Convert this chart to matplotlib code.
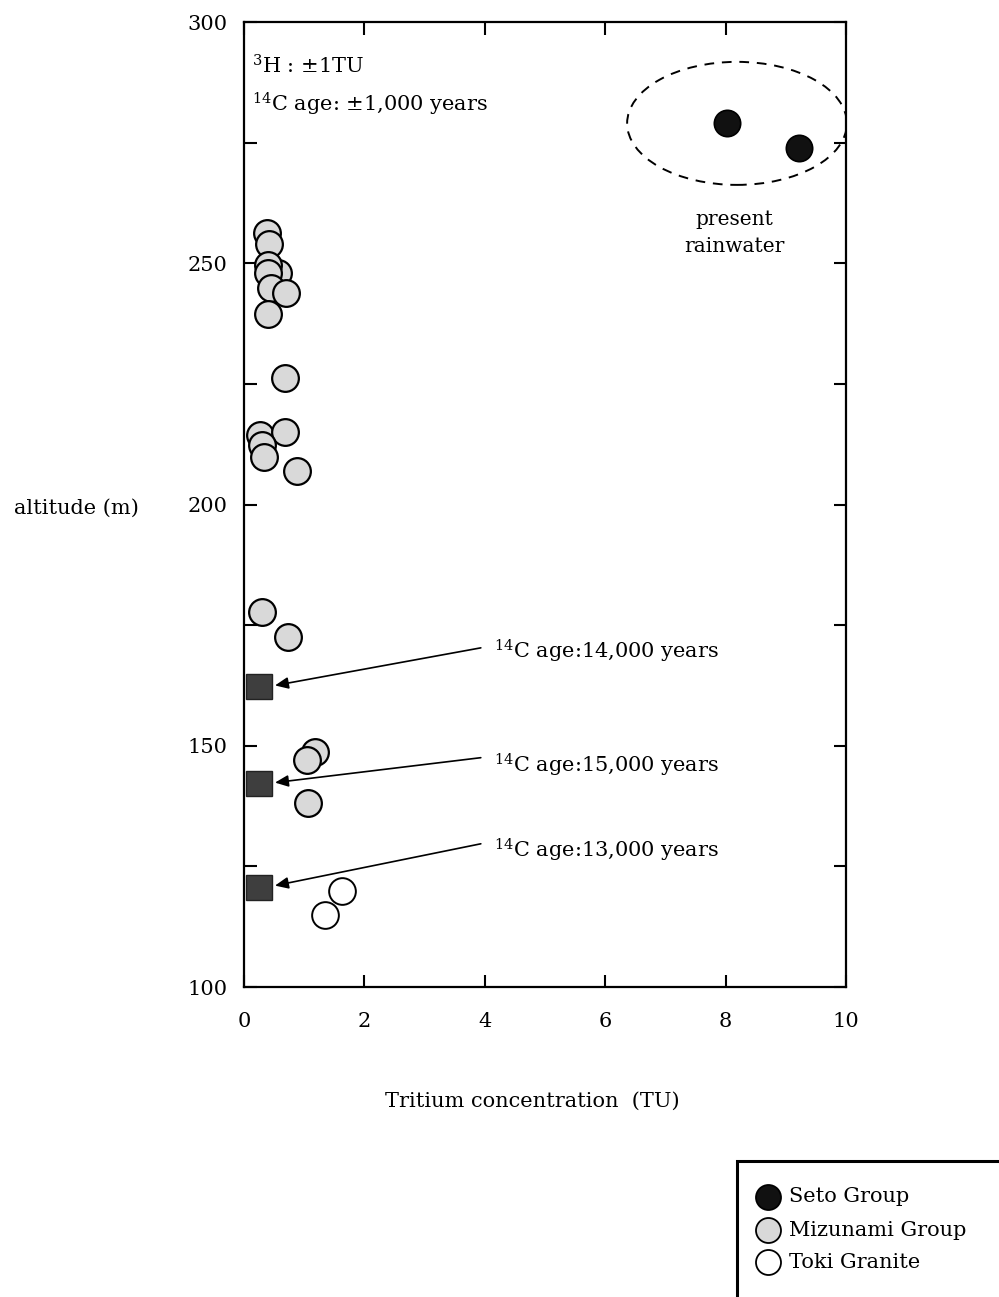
import numpy as np
import matplotlib
matplotlib.use("Agg")
from matplotlib import pyplot as plt
from matplotlib.patches import Ellipse, Rectangle
from matplotlib.ticker import MultipleLocator
from matplotlib.lines import Line2D

plt.rcParams['font.family'] = ['DejaVu Serif']
plt.rcParams['mathtext.fontset'] = 'dejavuserif'

# Mizunami Group (gray circles)
mizunami_x = [0.38, 0.42, 0.56, 0.40, 0.40, 0.45, 0.70, 0.40, 0.68, 0.27, 0.68, 0.30, 0.33, 0.88,
              0.30, 0.73, 1.18, 1.05, 1.06]
mizunami_y = [256.3, 254.0, 248.0, 249.7, 248.0, 244.9, 243.9, 239.5, 226.2, 214.4, 215.0, 212.3, 209.9, 206.9,
              177.7, 172.5, 148.7, 147.0, 138.1]
# Toki Granite (open circles)
toki_x = [1.63, 1.35]
toki_y = [119.9, 114.9]
# Seto Group (black circles, present rainwater)
seto_x = [8.02, 9.22]
seto_y = [279.1, 273.9]
# 14C dated samples
c14_x = [0.25, 0.25, 0.25]
c14_y = [162.2, 142.1, 120.7]
c14_labels = ['14,000', '15,000', '13,000']
c14_text_y = [169.6, 146.0, 128.4]
c14_arrow_y = [170.4, 147.6, 129.8]

fig = plt.figure(figsize=(9.99, 12.97), dpi=100)
ax = fig.add_axes([0.2442, 0.2390, 0.6026, 0.7440])

ax.set_xlim(0, 10)
ax.set_ylim(100, 300)

# 14C squares
for x, y in zip(c14_x, c14_y):
    ax.add_patch(Rectangle((x - 0.22, y - 2.6), 0.44, 5.2, facecolor='#3e3e3e',
                           edgecolor='#222222', lw=1, zorder=3))

ax.scatter(mizunami_x, mizunami_y, s=370, facecolor='#d9d9d9', edgecolor='black', lw=1.6, zorder=4)
ax.scatter(toki_x, toki_y, s=370, facecolor='white', edgecolor='black', lw=1.4, zorder=4)
ax.scatter(seto_x, seto_y, s=360, facecolor='#111111', edgecolor='black', lw=1.2, zorder=4)

ax.add_patch(Ellipse((8.19, 279.0), 3.65, 25.5, fill=False, ls=(0, (5, 4)), lw=1.4, color='black'))
ax.text(8.15, 256.3, 'present\nrainwater', ha='center', va='center', fontsize=14.5, linespacing=1.55)

ax.text(0.13, 290.9, r'$^{3}$H : ±1TU', fontsize=15, va='center')
ax.text(0.13, 283.0, r'$^{14}$C age: ±1,000 years', fontsize=15, va='center')

for y, tx_y, ar_y, lab in zip(c14_y, c14_text_y, c14_arrow_y, c14_labels):
    ax.annotate('', xy=(0.47, y + 0.2), xytext=(3.98, ar_y),
                arrowprops=dict(arrowstyle='-|>,head_length=0.8,head_width=0.35', color='black', lw=1.2))
    ax.text(4.15, tx_y, r'$^{14}$C age:' + lab + ' years', fontsize=15, va='center')

ax.xaxis.set_major_locator(MultipleLocator(2))
ax.yaxis.set_major_locator(MultipleLocator(50))
ax.yaxis.set_minor_locator(MultipleLocator(25))
ax.tick_params(which='both', direction='in', top=True, right=True, length=9, width=1.5, labelsize=15)
ax.tick_params(axis='y', pad=12)
ax.tick_params(axis='x', pad=18)
ax.tick_params(axis='x', which='minor', bottom=False, top=False)
for sp in ax.spines.values():
    sp.set_linewidth(1.6)

fig.text(76 / 999, 1 - 508 / 1297, 'altitude (m)', ha='center', va='center', fontsize=15)
fig.text(532 / 999, 1 - 1101 / 1297, 'Tritium concentration  (TU)', ha='center', va='center', fontsize=15)

# legend box (cut off at figure edge)
fig.patches.append(Rectangle((737 / 999, -0.01), 0.3, (1297 - 1161) / 1297 + 0.01,
                             transform=fig.transFigure, fill=False, lw=2.2, edgecolor='black'))
leg_labels = ['Seto Group', 'Mizunami Group', 'Toki Granite']
leg_colors = ['#111111', '#d9d9d9', 'white']
leg_y = [1197, 1230, 1262]
for lab, c, py in zip(leg_labels, leg_colors, leg_y):
    fig.add_artist(Line2D([768 / 999], [1 - py / 1297], marker='o', markersize=18, ls='none',
                          markerfacecolor=c, markeredgecolor='black', markeredgewidth=1.3,
                          transform=fig.transFigure))
    fig.text(789 / 999, 1 - py / 1297, lab, ha='left', va='center', fontsize=15)

fig.savefig('out.png', dpi=100)
